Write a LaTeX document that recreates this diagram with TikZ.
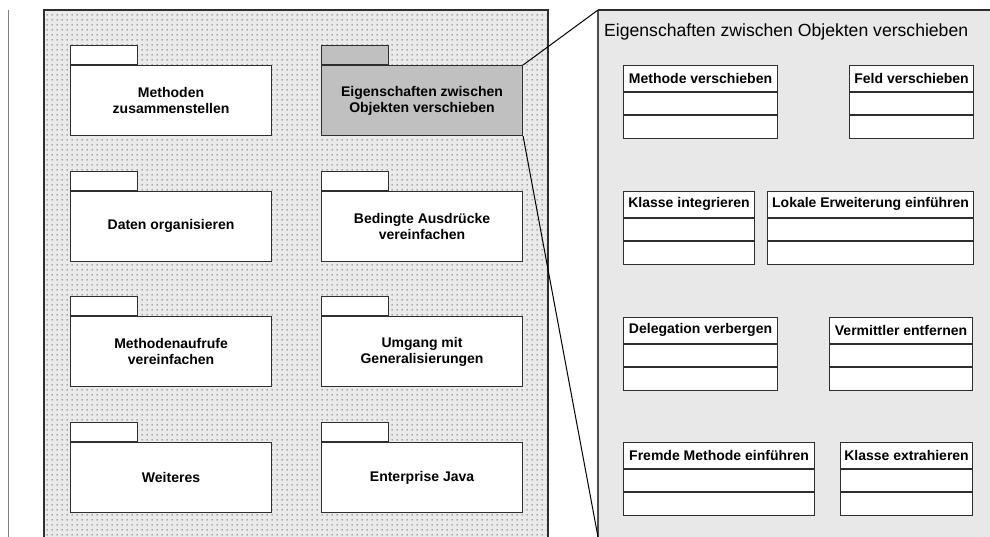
\documentclass[tikz,border=0pt]{standalone}
\usepackage{fontspec}
\setmainfont{Liberation Sans}
\usetikzlibrary{patterns.meta}

% grid of small square dots for the package area
\tikzdeclarepattern{
  name=griddots,
  type=uncolored,
  bottom left={(0pt,0pt)},
  top right={(5pt,5pt)},
  tile size={(5pt,5pt)},
  code={\pgfpathrectangle{\pgfpoint{1.8pt}{1.8pt}}{\pgfpoint{1.3pt}{1.3pt}}\pgfusepath{fill}}
}

\definecolor{edgecol}{HTML}{2E2E2E}
\definecolor{areabg}{HTML}{EAEAEA}
\definecolor{panelbg}{HTML}{E8E8E8}
\definecolor{selpkg}{HTML}{C0C0C0}
\definecolor{dotcol}{HTML}{4A4A4A}

\newcommand\pkgbox[4][white]{%
  \node[pkgbody, fill=#1] (#2) at (#3) {#4};
  \node[pkgtab, fill=#1] (#2-tab) at (#2.north west) {};
}
\newcommand\umlcls[4]{%
  \node[clshead, minimum width=#3] (#1) at (#2) {#4};
  \node[clscomp, minimum width=#3] (#1-attr) at (#1.south west) {};
  \node[clscomp, minimum width=#3] (#1-ops) at (#1-attr.south west) {};
}

\begin{document}
\begin{tikzpicture}[x=1pt,y=-1pt,
  pkgbody/.style={draw=edgecol, line width=1.1pt, minimum width=201pt,
    minimum height=70pt, inner sep=0pt, align=center, anchor=north west,
    font=\fontsize{14}{16}\selectfont\bfseries},
  pkgtab/.style={draw=edgecol, line width=1.1pt, minimum width=67pt,
    minimum height=19pt, inner sep=0pt, anchor=south west},
  clshead/.style={draw=edgecol, line width=1.1pt, fill=white, minimum height=25.5pt,
    inner sep=0pt, anchor=north west, font=\fontsize{14}{16}\selectfont\bfseries},
  clscomp/.style={draw=edgecol, line width=1.1pt, fill=white, minimum height=22.5pt,
    inner sep=0pt, anchor=north west},
  connector/.style={draw=black, line width=1pt}
]
\useasboundingbox (0,0) rectangle (990,536);
\clip (0,0) rectangle (990,536);

% left margin rule
\draw[black!50, line width=1pt] (8,10) -- (8,545);

% package area
\fill[areabg] (44,10) rectangle (548,545);
\fill[pattern=griddots, pattern color=dotcol] (44,10) rectangle (548,545);
\draw[edgecol, line width=1.2pt] (44,545) -- (44,10) -- (548,10) -- (548,545);

% packages
\pkgbox{p11}{70,65}{Methoden\\zusammenstellen}
\pkgbox[selpkg]{p12}{321,65}{Eigenschaften zwischen\\Objekten verschieben}
\pkgbox{p21}{70,190.7}{Daten organisieren}
\pkgbox{p22}{321,190.7}{Bedingte Ausdrücke\\vereinfachen}
\pkgbox{p31}{70,316.3}{Methodenaufrufe\\vereinfachen}
\pkgbox{p32}{321,316.3}{Umgang mit\\Generalisierungen}
\pkgbox{p41}{70,442}{Weiteres}
\pkgbox{p42}{321,442}{Enterprise Java}

% detail panel
\fill[panelbg] (598,10) rectangle (1000,545);
\draw[black!70, line width=1.5pt] (598,545) -- (598,10);
\draw[edgecol, line width=1.2pt] (598,10) -- (1000,10);
\coordinate (panel-top) at (598,10);
\coordinate (panel-bottom) at (598,537);
\node[anchor=base west, inner sep=0pt, font=\fontsize{17.6}{20}\selectfont]
  (panel-title) at (604,36) {Eigenschaften zwischen Objekten verschieben};

% classes
\umlcls{c1}{623,65}{154pt}{Methode verschieben}
\umlcls{c2}{849,65}{124pt}{Feld verschieben}
\umlcls{c3}{623,191}{131pt}{Klasse integrieren}
\umlcls{c4}{767,191}{206pt}{Lokale Erweiterung einführen}
\umlcls{c5}{623,317}{154pt}{Delegation verbergen}
\umlcls{c6}{829,317}{143pt}{Vermittler entfernen}
\umlcls{c7}{623,442}{191pt}{Fremde Methode einführen}
\umlcls{c8}{840,442}{132pt}{Klasse extrahieren}

% zoom lines from the selected package to the panel
\draw[connector] (p12.north east) -- (panel-top);
\draw[connector] (p12.south east) -- (panel-bottom);
\end{tikzpicture}
\end{document}
